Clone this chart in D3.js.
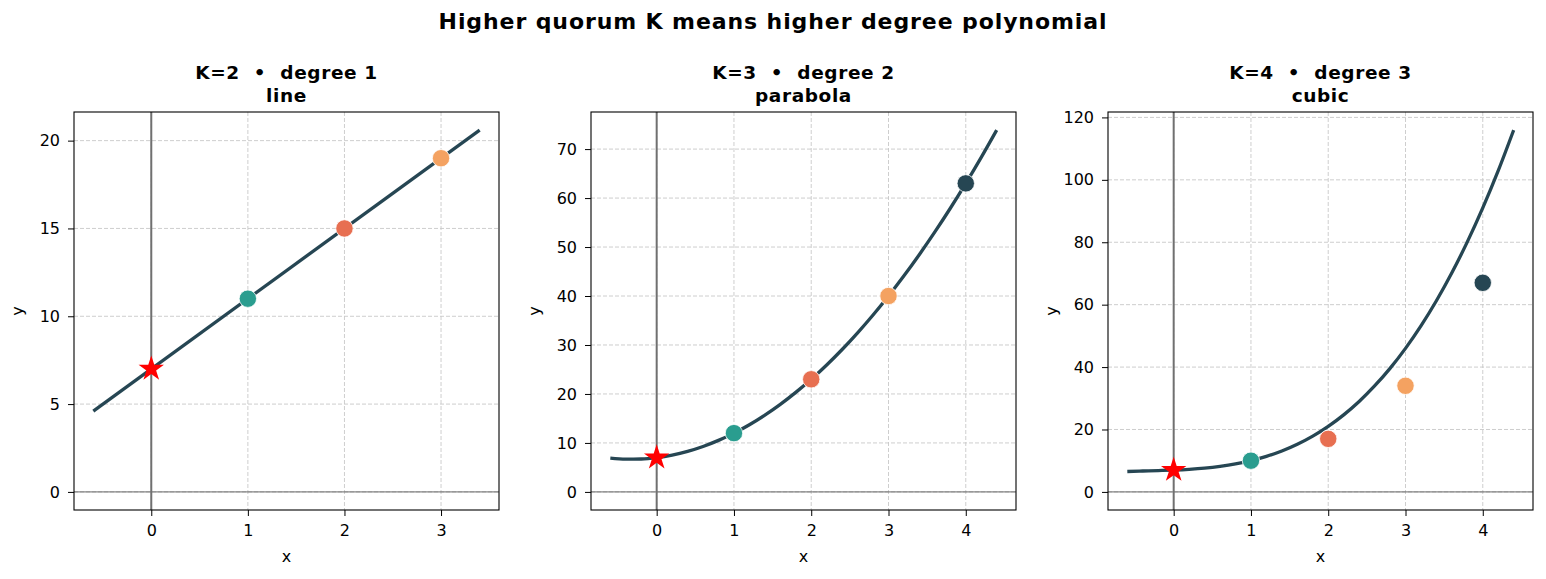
<!DOCTYPE html>
<html>
<head>
<meta charset="utf-8">
<script src="https://cdn.jsdelivr.net/npm/d3@7"></script>
<style>
  body { margin: 0; background: #fff; }
  text { font-family: "DejaVu Sans", sans-serif; }
</style>
</head>
<body>
<div id="chart"></div>
<script>
// panel titles
var titles = [["K=2  \u2022  degree 1", "line"],
              ["K=3  \u2022  degree 2", "parabola"],
              ["K=4  \u2022  degree 3", "cubic"]];

// fitted curves
var curveX1 = [-0.6, 3.4];
var curveY1 = [4.6, 20.6];
var curveX = [-0.6,-0.4,-0.2,0,0.2,0.4,0.6,0.8,1,1.2,1.4,1.6,1.8,2,2.2,2.4,2.6,2.8,3,3.2,3.4,3.6,3.8,4,4.2,4.4];
var curveY2 = [6.88,6.68,6.72,7,7.52,8.28,9.28,10.52,12,13.72,15.68,17.88,20.32,23,25.92,29.08,32.48,36.12,40,44.12,48.48,53.08,57.92,63,68.32,73.88];
var curveY3 = [6.54,6.70,6.83,7,7.25,7.62,8.18,8.95,10,11.37,13.10,15.26,17.87,21,24.69,28.98,33.94,39.59,46,53.21,61.26,70.22,80.11,91,102.93,115.94];

// share points
var ptsX1 = [1, 2, 3];
var ptsY1 = [11, 15, 19];
var ptsX2 = [1, 2, 3, 4];
var ptsY2 = [12, 23, 40, 63];
var ptsX3 = [1, 2, 3, 4];
var ptsY3 = [10, 17, 34, 67];
var ptColors = ["#2a9d8f", "#e76f51", "#f4a261", "#264653"];

// secret (star)
var secretX = 0, secretY = 7;

// ticks
var xTicks1 = [0, 1, 2, 3];
var xTicks2 = [0, 1, 2, 3, 4];
var yTicks1 = [0, 5, 10, 15, 20];
var yTicks2 = [0, 10, 20, 30, 40, 50, 60, 70];
var yTicks3 = [0, 20, 40, 60, 80, 100, 120];

var panels = [
  {cx: curveX1, cy: curveY1, px: ptsX1, py: ptsY1, xt: xTicks1, yt: yTicks1, left: 74},
  {cx: curveX, cy: curveY2, px: ptsX2, py: ptsY2, xt: xTicks2, yt: yTicks2, left: 591},
  {cx: curveX, cy: curveY3, px: ptsX3, py: ptsY3, xt: xTicks2, yt: yTicks3, left: 1108}
];

var W = 1546, H = 579;
var pw = 425, plotTop = 112, plotBottom = 510;
var lineColor = "#264653";

var svg = d3.select("#chart").append("svg")
  .attr("width", W).attr("height", H);

svg.append("text")
  .attr("x", 773).attr("y", 29)
  .attr("text-anchor", "middle")
  .style("font-size", "22px").style("font-weight", "bold")
  .style("letter-spacing", "0.9px")
  .text("Higher quorum K means higher degree polynomial");

function pad(lo, hi) { var m = (hi - lo) * 0.05; return [lo - m, hi + m]; }

panels.forEach(function(p, k) {
  var xs = [0].concat(p.cx);
  var ys = [0].concat(p.cy, p.py);
  var x = d3.scaleLinear().domain(pad(d3.min(xs), d3.max(xs))).range([p.left, p.left + pw]);
  var y = d3.scaleLinear().domain(pad(d3.min(ys), d3.max(ys))).range([plotBottom, plotTop]);
  var g = svg.append("g");

  // grid
  g.selectAll(".gx").data(p.xt).enter().append("line")
    .attr("x1", d => x(d)).attr("x2", d => x(d))
    .attr("y1", plotTop).attr("y2", plotBottom)
    .attr("stroke", "#c8c8c8").attr("stroke-width", 0.9).attr("stroke-dasharray", "4,2");
  g.selectAll(".gy").data(p.yt).enter().append("line")
    .attr("x1", p.left).attr("x2", p.left + pw)
    .attr("y1", d => y(d)).attr("y2", d => y(d))
    .attr("stroke", "#c8c8c8").attr("stroke-width", 0.9).attr("stroke-dasharray", "4,2");

  // lines at 0
  g.append("line").attr("x1", p.left).attr("x2", p.left + pw)
    .attr("y1", y(0)).attr("y2", y(0))
    .attr("stroke", "#666").attr("stroke-width", 1);
  g.append("line").attr("x1", x(0)).attr("x2", x(0))
    .attr("y1", plotTop).attr("y2", plotBottom)
    .attr("stroke", "#707070").attr("stroke-width", 2);

  // curve
  var line = d3.line()
    .x((d, i) => x(p.cx[i]))
    .y(d => y(d))
    .curve(d3.curveMonotoneX);
  g.append("path").datum(p.cy)
    .attr("d", line)
    .attr("fill", "none").attr("stroke", lineColor).attr("stroke-width", 3.3);

  // points
  g.selectAll(".pt").data(p.py).enter().append("circle")
    .attr("cx", (d, i) => x(p.px[i])).attr("cy", d => y(d))
    .attr("r", 8.7)
    .attr("fill", (d, i) => ptColors[i])
    .attr("stroke", "#fff").attr("stroke-width", 0.8);

  // star
  g.append("path")
    .attr("d", d3.symbol().type(d3.symbolStar).size(200)())
    .attr("transform", "translate(" + x(secretX) + "," + y(secretY) + ")")
    .attr("fill", "red");

  // frame
  g.append("rect").attr("x", p.left).attr("y", plotTop)
    .attr("width", pw).attr("height", plotBottom - plotTop)
    .attr("fill", "none").attr("stroke", "#000").attr("stroke-width", 1.1);

  // axes
  var ax = g.append("g").attr("transform", "translate(0," + plotBottom + ")")
    .call(d3.axisBottom(x).tickValues(p.xt).tickFormat(d3.format("d")).tickSize(6).tickPadding(9));
  var ay = g.append("g").attr("transform", "translate(" + p.left + ",0)")
    .call(d3.axisLeft(y).tickValues(p.yt).tickFormat(d3.format("d")).tickSize(6).tickPadding(8));
  [ax, ay].forEach(function(a) {
    a.select(".domain").remove();
    a.selectAll("text").style("font-size", "16px").attr("fill", "#000")
      .style("font-family", "DejaVu Sans, sans-serif");
    a.selectAll("line").attr("stroke", "#000");
  });

  // axis labels
  g.append("text").attr("x", p.left + pw / 2).attr("y", 562)
    .attr("text-anchor", "middle").style("font-size", "16px").text("x");
  g.append("text")
    .attr("transform", "translate(" + (p.left - 51) + "," + ((plotTop + plotBottom) / 2) + ") rotate(-90)")
    .attr("text-anchor", "middle").style("font-size", "16px").text("y");

  // title
  g.append("text").attr("x", p.left + pw / 2).attr("y", 79)
    .attr("text-anchor", "middle").style("font-size", "18.5px").style("font-weight", "bold")
    .style("white-space", "pre").style("letter-spacing", "0.6px")
    .text(titles[k][0]);
  g.append("text").attr("x", p.left + pw / 2).attr("y", 101.5)
    .attr("text-anchor", "middle").style("font-size", "18.5px").style("font-weight", "bold")
    .style("letter-spacing", "0.6px")
    .text(titles[k][1]);
});
</script>
</body>
</html>
